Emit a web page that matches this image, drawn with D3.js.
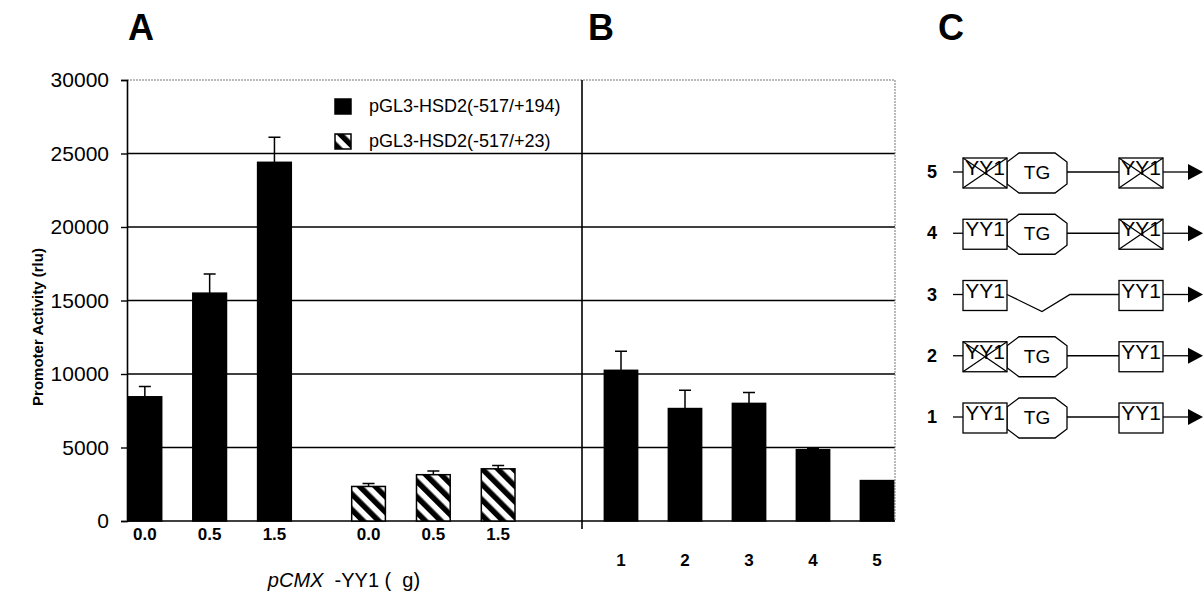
<!DOCTYPE html>
<html>
<head>
<meta charset="utf-8">
<script src="https://cdn.jsdelivr.net/npm/d3@7"></script>
<style>
  body { margin: 0; background: #fff; }
  svg { display: block; font-family: "Liberation Sans", Arial, sans-serif; }
</style>
</head>
<body>
<svg id="chart" width="1204" height="596"></svg>
<script>
// data
var doses = ['0.0', '0.5', '1.5'];
var seriesNames = ['pGL3-HSD2(-517/+194)', 'pGL3-HSD2(-517/+23)'];
var fullMean = [8450, 15500, 24400];
var fullErr = [700, 1300, 1700];
var shortMean = [2350, 3150, 3550];
var shortErr = [200, 250, 220];

var constructs = ['1', '2', '3', '4', '5'];
var constructMean = [10250, 7650, 8000, 4850, 2750];
var constructErr = [1300, 1250, 750, 100, 0];

var yTicks = [0, 5000, 10000, 15000, 20000, 25000, 30000];

// panel C schematic: which element is mutated / present
var leftMut = [false, true, false, false, true];
var tgPresent = [true, true, false, true, true];
var rightMut = [false, false, false, true, true];

var svg = d3.select('#chart');
var FONT = '"Liberation Sans", Arial, sans-serif';

// plot frame
var left = 127, right = 895, divider = 582;

var y = d3.scaleLinear().domain([0, 30000]).range([521, 80]);

// panel A scales: group then dose
var x0 = d3.scaleBand().domain(seriesNames).range([128, 515]).paddingInner(0.27);
var x1 = d3.scaleBand().domain(doses).range([0, x0.bandwidth()]).paddingInner(0.48).paddingOuter(0);

// panel B scale
var xB = d3.scaleBand().domain(constructs).range([589, 909]).paddingInner(0.48).paddingOuter(0.24);

// hatch pattern
var defs = svg.append('defs');
defs.append('pattern')
  .attr('id', 'hatch')
  .attr('patternUnits', 'userSpaceOnUse')
  .attr('width', 11).attr('height', 11)
  .attr('patternTransform', 'rotate(-45)')
  .call(function(p) {
    p.append('rect').attr('width', 11).attr('height', 11).attr('fill', '#fff');
    p.append('rect').attr('width', 5.5).attr('height', 11).attr('fill', '#000');
  });

// gridlines
svg.append('g')
  .selectAll('line')
  .data(yTicks.filter(function(d) { return d > 0 && d < 30000; }))
  .enter().append('line')
  .attr('x1', left).attr('x2', right)
  .attr('y1', function(d) { return y(d); })
  .attr('y2', function(d) { return y(d); })
  .attr('stroke', '#000').attr('stroke-width', 1.6);

// top and right border (faint dotted)
svg.append('line')
  .attr('x1', left).attr('x2', right).attr('y1', y(30000)).attr('y2', y(30000))
  .attr('stroke', '#777').attr('stroke-width', 1).attr('stroke-dasharray', '2,1');
svg.append('line')
  .attr('x1', right).attr('x2', right).attr('y1', y(30000)).attr('y2', y(0))
  .attr('stroke', '#777').attr('stroke-width', 1).attr('stroke-dasharray', '2,1');

// divider between A and B
svg.append('line')
  .attr('x1', divider).attr('x2', divider).attr('y1', y(30000)).attr('y2', y(0) + 8)
  .attr('stroke', '#000').attr('stroke-width', 1.6);

// baseline
svg.append('line')
  .attr('x1', left).attr('x2', right).attr('y1', y(0)).attr('y2', y(0))
  .attr('stroke', '#000').attr('stroke-width', 1.6);

// y axis
var yAxis = svg.append('g')
  .attr('transform', 'translate(' + left + ',0)')
  .call(d3.axisLeft(y).tickValues(yTicks).tickFormat(d3.format('d')).tickSize(6).tickPadding(12));
yAxis.select('.domain').attr('stroke', '#000').attr('stroke-width', 1.6);
yAxis.selectAll('line').attr('stroke', '#000').attr('stroke-width', 1.4);
yAxis.selectAll('text').attr('font-size', 21).attr('fill', '#000')
  .attr('font-family', FONT);

svg.append('text')
  .attr('transform', 'translate(43,327) rotate(-90)')
  .attr('text-anchor', 'middle')
  .attr('font-size', 15).attr('font-weight', 'bold')
  .text('Promoter Activity (rlu)');

// panel A bars
var groups = [
  {name: seriesNames[0], mean: fullMean, err: fullErr, fill: '#000'},
  {name: seriesNames[1], mean: shortMean, err: shortErr, fill: 'url(#hatch)'}
];

groups.forEach(function(g) {
  var gx = x0(g.name);
  var rows = doses.map(function(d, i) { return {dose: d, v: g.mean[i], e: g.err[i]}; });
  var grp = svg.append('g').attr('transform', 'translate(' + gx + ',0)');

  grp.selectAll('.err')
    .data(rows).enter().append('path')
    .attr('class', 'err')
    .attr('d', function(d) {
      var cx = x1(d.dose) + x1.bandwidth() / 2;
      return 'M' + cx + ',' + y(d.v) + 'V' + y(d.v + d.e) + 'M' + (cx - 6) + ',' + y(d.v + d.e) + 'H' + (cx + 6);
    })
    .attr('stroke', '#000').attr('stroke-width', 1.5).attr('fill', 'none');

  grp.selectAll('.bar')
    .data(rows).enter().append('rect')
    .attr('class', 'bar')
    .attr('x', function(d) { return x1(d.dose); })
    .attr('y', function(d) { return y(d.v); })
    .attr('width', x1.bandwidth())
    .attr('height', function(d) { return y(0) - y(d.v); })
    .attr('fill', g.fill)
    .attr('stroke', '#000').attr('stroke-width', 1.5);

  var ax = grp.append('g')
    .attr('transform', 'translate(0,' + y(0) + ')')
    .call(d3.axisBottom(x1).tickSize(0).tickPadding(7));
  ax.select('.domain').remove();
  ax.selectAll('text').attr('font-size', 17).attr('font-weight', 'bold').attr('fill', '#000')
    .attr('font-family', FONT);
});

// panel B bars
var bRows = constructs.map(function(c, i) { return {c: c, v: constructMean[i], e: constructErr[i]}; });

svg.append('g').selectAll('path')
  .data(bRows.filter(function(d) { return d.e > 0; }))
  .enter().append('path')
  .attr('d', function(d) {
    var cx = xB(d.c) + xB.bandwidth() / 2;
    return 'M' + cx + ',' + y(d.v) + 'V' + y(d.v + d.e) + 'M' + (cx - 6) + ',' + y(d.v + d.e) + 'H' + (cx + 6);
  })
  .attr('stroke', '#000').attr('stroke-width', 1.5).attr('fill', 'none');

svg.append('g').selectAll('rect')
  .data(bRows).enter().append('rect')
  .attr('x', function(d) { return xB(d.c); })
  .attr('y', function(d) { return y(d.v); })
  .attr('width', xB.bandwidth())
  .attr('height', function(d) { return y(0) - y(d.v); })
  .attr('fill', '#000').attr('stroke', '#000').attr('stroke-width', 1.5);

var bAx = svg.append('g')
  .attr('transform', 'translate(0,' + y(0) + ')')
  .call(d3.axisBottom(xB).tickSize(0).tickPadding(33));
bAx.select('.domain').remove();
bAx.selectAll('text').attr('font-size', 17).attr('font-weight', 'bold').attr('fill', '#000')
  .attr('font-family', FONT);

// x title for A
var xt = svg.append('text')
  .attr('x', 344).attr('y', 587)
  .attr('text-anchor', 'middle')
  .attr('font-size', 20)
  .attr('xml:space', 'preserve');
xt.append('tspan').attr('font-style', 'italic').text('pCMX');
xt.append('tspan').text('  -YY1 (  g)');

// legend
var legend = svg.append('g');
seriesNames.forEach(function(name, i) {
  var ly = 99 + i * 35;
  legend.append('rect')
    .attr('x', 335).attr('y', ly).attr('width', 16).attr('height', 15)
    .attr('fill', i === 0 ? '#000' : 'url(#hatch)')
    .attr('stroke', '#000').attr('stroke-width', 1.5);
  legend.append('text')
    .attr('x', 369).attr('y', ly + 13)
    .attr('font-size', 18)
    .text(name);
});

// panel letters
[['A', 128], ['B', 588], ['C', 938]].forEach(function(p) {
  svg.append('text')
    .attr('x', p[1]).attr('y', 40)
    .attr('font-size', 36).attr('font-weight', 'bold')
    .text(p[0]);
});

// panel C: promoter constructs
var rowY = d3.scalePoint().domain(constructs.slice().reverse()).range([172, 417]);
var boxW = 44, boxH = 30;
var lbX = 963, tgX = 1007, tgW = 60, tgH = 40, rbX = 1119, arrowEnd = 1188;

function yyBox(g, x, cy, mut) {
  g.append('rect')
    .attr('x', x).attr('y', cy - 14).attr('width', boxW).attr('height', boxH)
    .attr('fill', '#fff').attr('stroke', '#000').attr('stroke-width', 1.3);
  g.append('text')
    .attr('x', x + boxW / 2).attr('y', cy + 3)
    .attr('text-anchor', 'middle').attr('font-size', 21)
    .text('YY1');
  if (mut) {
    g.append('path')
      .attr('d', 'M' + x + ',' + (cy - 14) + 'L' + (x + boxW) + ',' + (cy + 16) +
        'M' + (x + boxW) + ',' + (cy - 14) + 'L' + x + ',' + (cy + 16))
      .attr('stroke', '#000').attr('stroke-width', 1.3);
  }
}

constructs.forEach(function(c, i) {
  var cy = rowY(c);
  var g = svg.append('g');
  g.append('text')
    .attr('x', 932).attr('y', cy + 6)
    .attr('text-anchor', 'middle').attr('font-size', 18).attr('font-weight', 'bold')
    .text(c);
  g.append('line').attr('x1', 953).attr('x2', lbX).attr('y1', cy).attr('y2', cy)
    .attr('stroke', '#000').attr('stroke-width', 1.3);
  if (tgPresent[i]) {
    g.append('line').attr('x1', tgX + tgW).attr('x2', rbX).attr('y1', cy).attr('y2', cy)
      .attr('stroke', '#000').attr('stroke-width', 1.3);
    var k = 9, t = cy - tgH / 2 + 1, b = cy + tgH / 2 + 1;
    var pts = [
      [tgX + k + 3, t], [tgX + tgW - k - 3, t], [tgX + tgW, t + k], [tgX + tgW, b - k],
      [tgX + tgW - k - 3, b], [tgX + k + 3, b], [tgX, b - k], [tgX, t + k]
    ];
    g.append('polygon')
      .attr('points', pts.map(function(p) { return p.join(','); }).join(' '))
      .attr('fill', '#fff').attr('stroke', '#000').attr('stroke-width', 1.3);
    g.append('text')
      .attr('x', tgX + tgW / 2).attr('y', cy + 7)
      .attr('text-anchor', 'middle').attr('font-size', 19)
      .text('TG');
  } else {
    g.append('path')
      .attr('d', 'M' + (lbX + boxW) + ',' + cy + 'L' + 1042 + ',' + (cy + 17) +
        'L' + 1070 + ',' + cy + 'H' + rbX)
      .attr('fill', 'none').attr('stroke', '#000').attr('stroke-width', 1.3);
  }
  yyBox(g, lbX, cy, leftMut[i]);
  yyBox(g, rbX, cy, rightMut[i]);
  g.append('line').attr('x1', rbX + boxW).attr('x2', arrowEnd).attr('y1', cy).attr('y2', cy)
    .attr('stroke', '#000').attr('stroke-width', 1.3);
  g.append('path')
    .attr('d', 'M' + arrowEnd + ',' + (cy - 8) + 'L' + (arrowEnd + 15) + ',' + cy + 'L' + arrowEnd + ',' + (cy + 8) + 'Z')
    .attr('fill', '#000');
});
</script>
</body>
</html>
